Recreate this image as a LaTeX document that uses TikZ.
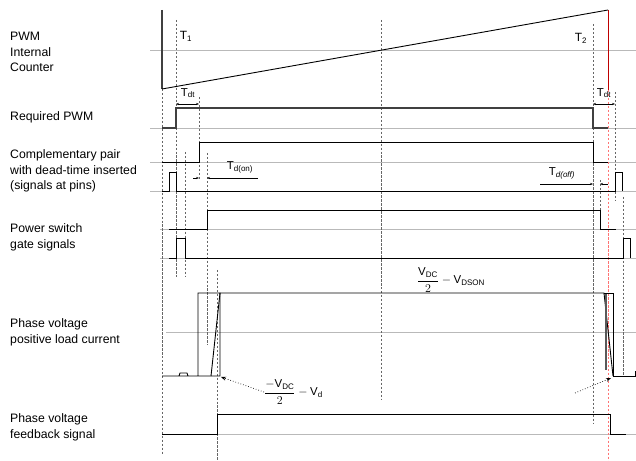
\documentclass[tikz,border=0pt]{standalone}
\usepackage{amsmath}
\usepackage{fontspec}
\setmainfont{Liberation Sans}
\usetikzlibrary{arrows.meta}

\tikzset{
  zero/.style={gray!55, line width=0.7},
  sig/.style={black, line width=0.9},
  pwm/.style={black!75, line width=1.6},
  guide/.style={gray!80!black, dash pattern=on 2.5pt off 1.5pt, line width=0.6},
  marker/.style={red!75!black, line width=1},
  dim/.style={line width=0.4, {Stealth[length=3pt,width=2.2pt]}-{Stealth[length=3pt,width=2.2pt]}},
  into/.style={line width=0.4, -{Stealth[length=3pt,width=2.2pt]}},
  pointer/.style={dotted, line width=0.7, -{Stealth[length=5pt,width=4pt]}},
  lbl/.style={align=left, anchor=west, inner sep=0pt, font=\fontsize{12.3}{15.8}\selectfont},
  tag/.style={inner sep=0pt, font=\fontsize{11.5}{12}\selectfont},
  frac/.style={inner sep=0pt, font=\fontsize{11.5}{13}\selectfont},
}

\begin{document}
\begin{tikzpicture}[x=1bp,y=-1bp]
  \useasboundingbox (0,0) rectangle (636,461);

  % row labels
  \node[lbl] (counter) at (10,52) {PWM\\Internal\\Counter};
  \node[lbl] (reqpwm) at (10,117) {Required PWM};
  \node[lbl] (comppair) at (10,171) {Complementary pair\\with dead-time inserted\\(signals at pins)};
  \node[lbl] (gate) at (10,237) {Power switch\\gate signals};
  \node[lbl] (phase) at (10,332) {Phase voltage\\positive load current};
  \node[lbl] (feedback) at (10,427) {Phase voltage\\feedback signal};

  % zero lines
  \draw[zero] (150,50) -- (636,50);
  \draw[zero] (150,128) -- (636,128);
  \draw[zero] (150,162) -- (636,162);
  \draw[zero] (150,191) -- (636,191);
  \draw[zero] (160,229) -- (636,229);
  \draw[zero] (160,258) -- (636,258);
  \draw[zero] (166,332) -- (636,332);
  \draw[zero] (162,434) -- (636,434);

  % time guides
  \draw[guide] (162,89) -- (162,455);
  \draw[guide] (176,20) -- (176,277);
  \draw[guide] (185,152) -- (185,277);
  \draw[guide] (199,97) -- (199,180);
  \draw[guide] (207,153) -- (207,345);
  \draw[guide] (217,270) -- (217,461);
  \draw[guide] (381,20) -- (381,400);
  \draw[guide] (593,24) -- (593,423);
  \draw[guide] (615,92) -- (615,200);
  \draw[guide] (600,180) -- (600,229);
  \draw[guide] (623,197) -- (623,375);

  % counter
  \draw[pwm] (162,10) -- (162,89);
  \draw[sig] (162,89) -- (608,10);
  \draw[marker] (608,10) -- (608,90);
  \draw[marker, red!55, dash pattern=on 2.5pt off 1.5pt] (608,90) -- (608,461);
  \node[tag, font=\fontsize{12}{12}\selectfont] (t1) at (186,36) {T\textsubscript{1}};
  \node[tag, font=\fontsize{12}{12}\selectfont] (t2) at (581,38) {T\textsubscript{2}};

  % required PWM
  \draw[pwm] (162,128) -- (176,128) -- (176,108) -- (593,108) -- (593,128) -- (608,128);
  \node[tag] (tdtl) at (188,93) {T\textsubscript{dt}};
  \node[tag] (tdtr) at (604,93) {T\textsubscript{dt}};
  \draw[dim] (176,104) -- (199,104);
  \draw[dim] (593,104) -- (615,104);

  % complementary pair
  \draw[sig] (162,162) -- (199,162) -- (199,142) -- (593,142) -- (593,162) -- (608,162);
  \draw[sig] (162,191) -- (169,191) -- (169,172) -- (176,172) -- (176,191) -- (615,191)
    -- (615,172) -- (622,172) -- (622,191);
  \node[tag] (tdon) at (240,167) {T\textsubscript{d(on)}};
  \draw[into] (193,178) -- (199,178);
  \draw[into] (258,178) -- (207,178);
  \node[tag] (tdoff) at (562,173) {T\textsubscript{\itshape d(off)}};
  \draw[into] (540,184) -- (593,184);
  \draw[into] (608,184) -- (600,184);

  % gate signals
  \draw[sig] (169,229) -- (207,229) -- (207,210) -- (600,210) -- (600,229) -- (616,229);
  \draw[sig] (169,258) -- (176,258) -- (176,238) -- (185,238) -- (185,258) -- (623,258)
    -- (623,238) -- (630,238) -- (630,258);

  % phase voltage
  \draw[sig] (162,376) -- (179,376) -- (180,373) -- (187,373) -- (188,376) -- (198,376)
    -- (198,293) -- (220,293) -- (220,376) -- cycle;
  \draw[sig] (211,376) -- (220,293) -- (604,293) -- (613,376);
  \draw[sig] (604,293) -- (613,293) -- (613,376) -- (635,376) -- (635,371);
  \draw[gray!70!black, line width=1.4] (606,294) -- (606,370);
  \node[frac] (vhigh) at (451,280)
    {$\dfrac{\text{V\textsubscript{DC}}}{2} - \text{V\textsubscript{DSON}}$};
  \node[frac, anchor=west] (vlow) at (264,392)
    {$\dfrac{-\text{V\textsubscript{DC}}}{2} - \text{V\textsubscript{d}}$};
  \coordinate (lowl) at (221,377);
  \coordinate (lowr) at (611,378);
  \coordinate (fromr) at (575,393);
  \draw[pointer] (vlow.west) -- (lowl);
  \draw[pointer] (fromr) -- (lowr);

  % feedback
  \draw[sig] (162,434) -- (217,434) -- (217,414) -- (610,414) -- (610,434) -- (626,434);
\end{tikzpicture}
\end{document}
